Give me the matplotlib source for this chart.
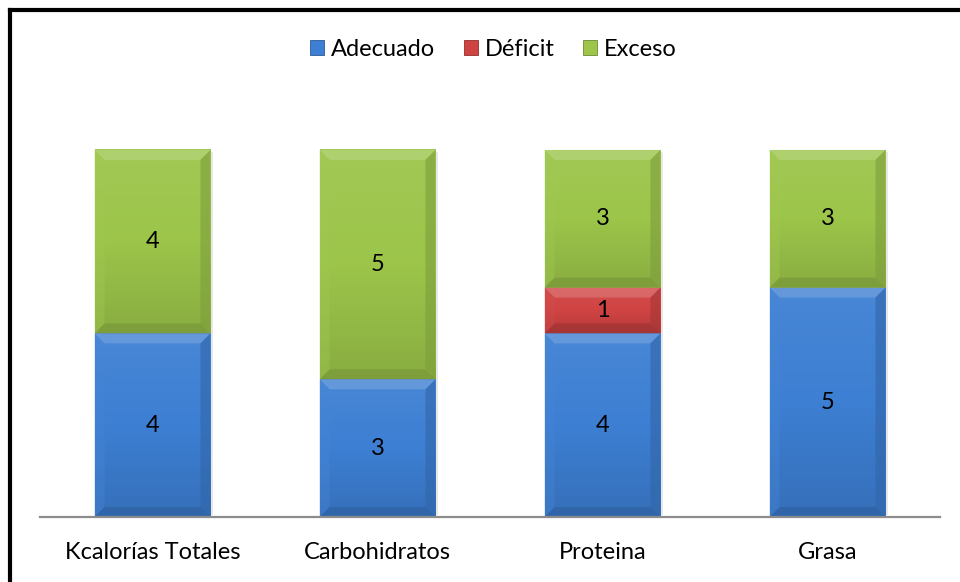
import numpy as np
import matplotlib.pyplot as plt
from matplotlib.patches import Polygon, Rectangle
from matplotlib.colors import to_rgb, LinearSegmentedColormap
from matplotlib.lines import Line2D

categorias = ["Kcalorías Totales", "Carbohidratos", "Proteina", "Grasa"]
adecuado = [4, 3, 4, 5]
deficit = [0, 0, 1, 0]
exceso = [4, 5, 3, 3]

series = ["Adecuado", "Déficit", "Exceso"]
colores = ["#3d7fd3", "#d04343", "#9cc54a"]

plt.rcParams["font.family"] = ["Lato", "DejaVu Sans"]


def aclarar(c, f):
    c = np.array(to_rgb(c))
    return tuple(c + (1 - c) * f)


def oscurecer(c, f):
    return tuple(np.array(to_rgb(c)) * (1 - f))


def bisel(ax, rect, color, px=10):
    # relleno con degradado y bordes biselados estilo Excel
    x0, y0 = rect.get_x(), rect.get_y()
    w, h = rect.get_width(), rect.get_height()
    if h <= 0:
        return
    x1, y1 = x0 + w, y0 + h
    xl, yl = ax.get_xlim(), ax.get_ylim()
    sx = px * (xl[1] - xl[0]) / ax.bbox.width
    sy = px * (yl[1] - yl[0]) / ax.bbox.height
    cmap = LinearSegmentedColormap.from_list(
        "g", [oscurecer(color, 0.12), color, aclarar(color, 0.06)])
    grad = np.linspace(1, 0, 64).reshape(-1, 1)
    ax.imshow(grad, extent=[x0, x1, y0, y1], aspect="auto", cmap=cmap,
              vmin=0, vmax=1, zorder=3, interpolation="bicubic")
    caras = [
        ([(x0, y1), (x1, y1), (x1 - sx, y1 - sy), (x0 + sx, y1 - sy)], aclarar(color, 0.3), 0.6),
        ([(x0, y0), (x1, y0), (x1 - sx, y0 + sy), (x0 + sx, y0 + sy)], oscurecer(color, 0.25), 0.6),
        ([(x0, y0), (x0, y1), (x0 + sx, y1 - sy), (x0 + sx, y0 + sy)], aclarar(color, 0.05), 0.4),
        ([(x1, y0), (x1, y1), (x1 - sx, y1 - sy), (x1 - sx, y0 + sy)], oscurecer(color, 0.2), 0.6),
    ]
    for pts, c, a in caras:
        ax.add_patch(Polygon(pts, closed=True, facecolor=c, edgecolor="none",
                             alpha=a, zorder=4))


fig = plt.figure(figsize=(9.6, 5.82), dpi=100)
ax = fig.add_axes([40 / 960, 1 - 517 / 582, 900 / 960, 413 / 582])
ax.set_xlim(-0.5, 3.5)
ax.set_ylim(0, 9)

x = np.arange(len(categorias))
ancho = 0.515
base = np.zeros(len(categorias))
for nombre, valores, color in zip(series, [adecuado, deficit, exceso], colores):
    barras = ax.bar(x, valores, ancho, bottom=base, color=color, label=nombre, zorder=2)
    for rect, v in zip(barras, valores):
        if v > 0:
            bisel(ax, rect, color)
            ax.text(rect.get_x() + rect.get_width() / 2, rect.get_y() + v / 2, str(v),
                    ha="center", va="center", fontsize=17, color="black", zorder=5)
    base = base + np.array(valores)

# sombra suave a la derecha de cada columna
for xi, total in zip(x, base):
    ax.add_patch(Rectangle((xi + ancho / 2, 0.05), 0.012, total - 0.1,
                           facecolor="#bbbbbb", alpha=0.35, edgecolor="none", zorder=1))

ax.set_xlim(-0.5, 3.5)
ax.set_ylim(0, 9)
ax.set_xticks(x)
ax.set_xticklabels(categorias, fontsize=17)
ax.tick_params(axis="x", length=0, pad=18)
ax.set_yticks([])
for s in ["left", "right", "top"]:
    ax.spines[s].set_visible(False)
ax.spines["bottom"].set_color("#8c8c8c")
ax.spines["bottom"].set_linewidth(1.6)
ax.spines["bottom"].set_zorder(6)

manijas = [Rectangle((0, 0), 1, 1, facecolor=c, edgecolor=oscurecer(c, 0.3), linewidth=0.6)
           for c in colores]
fig.legend(manijas, series, loc="center", bbox_to_anchor=(0.514, 1 - 49 / 582), ncol=3,
           frameon=False, fontsize=17, handlelength=0.6, handleheight=0.6,
           handletextpad=0.3, columnspacing=1.2)

# marco negro superior e izquierdo
fig.add_artist(Line2D([10 / 960, 10 / 960], [0, 1 - 10 / 582], transform=fig.transFigure,
                      color="black", linewidth=3, solid_capstyle="projecting"))
fig.add_artist(Line2D([10 / 960, 1], [1 - 10 / 582, 1 - 10 / 582], transform=fig.transFigure,
                      color="black", linewidth=3, solid_capstyle="projecting"))

fig.savefig("out.png", dpi=100)
